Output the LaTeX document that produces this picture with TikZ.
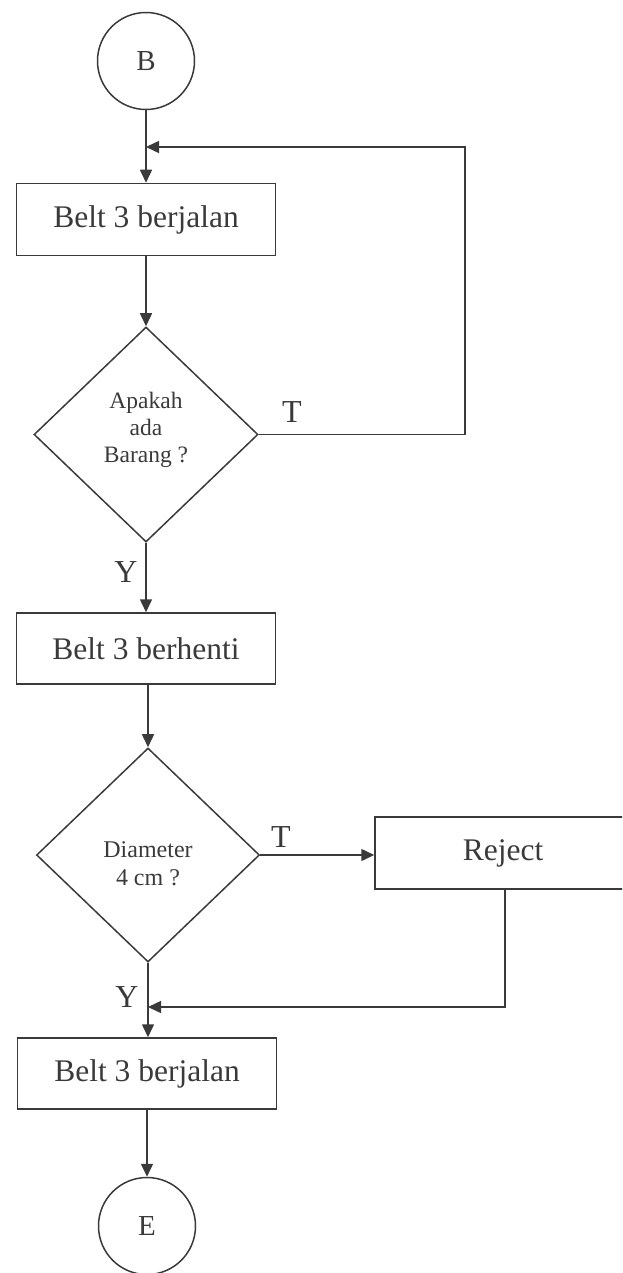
\documentclass[tikz,border=0pt]{standalone}
\usepackage{fontspec}
\setmainfont{Liberation Serif}
\usetikzlibrary{shapes.geometric,arrows.meta}
\definecolor{ink}{HTML}{3A3A3A}
\begin{document}
\begin{tikzpicture}[x=1pt,y=-1pt,
  line/.style={draw=ink, line width=1.5pt},
  arr/.style={line, -{Triangle[length=13pt,width=12pt]}},
  proc/.style={draw=ink, line width=1.5pt, rectangle, minimum width=259pt,
    minimum height=72pt, inner sep=0pt, text=ink,
    font=\fontsize{31.5}{36}\selectfont},
  term/.style={draw=ink, line width=1.5pt, circle, minimum size=97pt,
    inner sep=0pt, text=ink, font=\fontsize{29}{32}\selectfont},
  decision/.style={draw=ink, line width=1.5pt, diamond, minimum width=224pt,
    minimum height=215pt, inner sep=0pt},
  qtext/.style={text=ink, align=center, font=\fontsize{23.5}{27}\selectfont},
  branch/.style={text=ink, font=\fontsize{32}{36}\selectfont}]

% page frame
\useasboundingbox (0,0) rectangle (622,1273);
\clip (0,0) rectangle (622,1273);

% terminals, steps and decisions
\node[term] (B) at (146,61) {B};
\node[proc] (box1) at (146,219.5) {Belt 3 berjalan};
\node[decision] (d1) at (146,434.5) {};
\node[qtext] (d1text) at (146,429.5) {Apakah\\ada\\Barang ?};
\node[proc, minimum height=71pt] (box2) at (146,648.5) {Belt 3 berhenti};
\node[decision, minimum width=223pt, minimum height=214pt] (d2) at (148,855) {};
\node[qtext, font=\fontsize{24}{28}\selectfont] (d2text) at (148,864) {Diameter\\4 cm ?};
\node[proc, minimum width=256pt] (rej) at (503,853) {Reject};
\node[proc, minimum height=71pt] (box3) at (147,1073.5) {Belt 3 berjalan};
\node[term] (E) at (147,1226) {E};

% branch labels
\node[branch] (t1) at (292,412) {T};
\node[branch] (y1) at (126,572) {Y};
\node[branch] (t2) at (281,837) {T};
\node[branch] (y2) at (127,997) {Y};

% helper points for the return lines
\coordinate (m1) at (146,147);
\coordinate (loopx) at (465,147);
\coordinate (rdrop) at (505,1007);

% main flow
\draw[arr] (B) -- (box1);
\draw[arr] (box1) -- (d1);
\draw[arr] (d1) -- (box2);
\draw[arr] (box2.south -| d2.north) -- (d2);
\draw[arr] (d2.south) -- (d2.south |- box3.north);
\draw[arr] (box3) -- (E);

% "T" branch back to the start of belt 3
\draw[arr] (d1.east) -- (d1.east -| loopx) -- (loopx) -- (m1);

% "T" branch to reject, then back into the main flow
\draw[arr] (d2.east) -- (d2.east -| rej.west);
\draw[arr] (rej.south -| rdrop) -- (rdrop) -- (rdrop -| d2.south);
\end{tikzpicture}
\end{document}
